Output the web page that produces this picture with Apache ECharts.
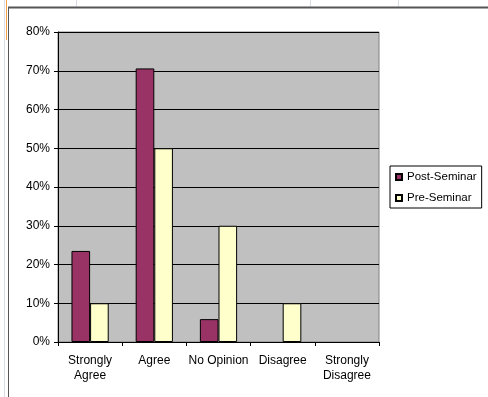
<!DOCTYPE html>
<html>
<head>
<meta charset="utf-8">
<script src="https://cdn.jsdelivr.net/npm/echarts@6/dist/echarts.min.js"></script>
<style>
html, body { margin: 0; padding: 0; background: #fff; }
#chart { width: 488px; height: 397px; }
</style>
</head>
<body>
<div id="chart"></div>
<script>
// 数据
var categories = ['Strongly\nAgree', 'Agree', 'No Opinion', 'Disagree', 'Strongly\nDisagree'];
var postSeminar = [23.5, 70.6, 5.9, 0, 0];
var preSeminar = [10, 50, 30, 10, 0];

var chart = echarts.init(document.getElementById('chart'));
var font = 'Liberation Sans, Arial, sans-serif';

// 值为0的柱子不画边框
function toBars(values) {
	return values.map(function (v) {
		return v === 0 ? { value: v, itemStyle: { borderWidth: 0 } } : v;
	});
}

var option = {
	animation: false,
	backgroundColor: '#fff',
	textStyle: { fontFamily: font },
	grid: {
		left: 58, top: 32, width: 321, height: 310,
		show: true,
		backgroundColor: '#C0C0C0',
		borderColor: '#808080',
		borderWidth: 1
	},
	legend: {
		orient: 'vertical',
		left: 390, top: 166,
		padding: [5, 5, 4, 5],
		itemWidth: 6, itemHeight: 6, itemGap: 9,
		borderColor: '#000', borderWidth: 1,
		icon: 'rect',
		textStyle: { fontSize: 11.5, color: '#000', lineHeight: 12, fontFamily: font },
		data: ['Post-Seminar', 'Pre-Seminar']
	},
	xAxis: {
		type: 'category',
		data: categories,
		axisLine: { lineStyle: { color: '#000' } },
		axisTick: { show: true, length: 4, lineStyle: { color: '#000' } },
		axisLabel: { color: '#000', fontSize: 12, margin: 11, lineHeight: 15, interval: 0, fontFamily: font },
		splitLine: { show: false }
	},
	yAxis: {
		type: 'value',
		min: 0, max: 80, interval: 10,
		axisLine: { show: true, lineStyle: { color: '#000' } },
		axisTick: { show: true, length: 4, lineStyle: { color: '#000' } },
		axisLabel: { color: '#000', fontSize: 12, margin: 8, formatter: '{value}%', fontFamily: font },
		splitLine: { show: true, lineStyle: { color: '#000', width: 1 } }
	},
	series: [{
		name: 'Post-Seminar',
		type: 'bar',
		data: toBars(postSeminar),
		barGap: '0%',
		barCategoryGap: '42%',
		itemStyle: { color: '#993366', borderColor: '#000', borderWidth: 1 }
	}, {
		name: 'Pre-Seminar',
		type: 'bar',
		data: toBars(preSeminar),
		itemStyle: { color: '#FFFFCC', borderColor: '#000', borderWidth: 1 }
	}],
	graphic: [
		// 表格线 / 图表外框
		{ type: 'line', shape: { x1: 76.5, y1: 0, x2: 76.5, y2: 7 }, style: { stroke: '#D8DCE4', lineWidth: 1 } },
		{ type: 'line', shape: { x1: 310.5, y1: 0, x2: 310.5, y2: 7 }, style: { stroke: '#D8DCE4', lineWidth: 1 } },
		{ type: 'line', shape: { x1: 398.5, y1: 0, x2: 398.5, y2: 7 }, style: { stroke: '#D8DCE4', lineWidth: 1 } },
		{ type: 'line', shape: { x1: 4.5, y1: 0, x2: 4.5, y2: 397 }, style: { stroke: '#D8DCE4', lineWidth: 1 } },
		{ type: 'line', shape: { x1: 6.5, y1: 0, x2: 6.5, y2: 40 }, style: { stroke: '#F0A040', lineWidth: 1 } },
		{ type: 'line', shape: { x1: 8, y1: 7.5, x2: 488, y2: 7.5 }, style: { stroke: '#555', lineWidth: 2 } },
		{ type: 'line', shape: { x1: 8.5, y1: 7, x2: 8.5, y2: 397 }, style: { stroke: '#555', lineWidth: 1 } }
	]
};
chart.setOption(option);

window.onresize = function () {
	chart.resize();
};
</script>
</body>
</html>
